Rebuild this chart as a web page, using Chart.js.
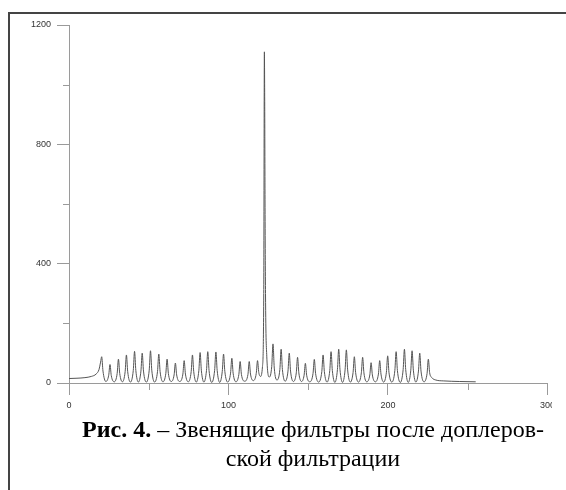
<!DOCTYPE html>
<html>
<head>
<meta charset="utf-8">
<script src="https://cdn.jsdelivr.net/npm/chart.js@4.4.0/dist/chart.umd.min.js"></script>
<style>
  body { margin: 0; background: #fff; width: 566px; height: 490px; overflow: hidden; position: relative; }
  #frame { position: absolute; left: 8px; top: 12px; width: 600px; height: 500px;
           border-top: 2px solid #444; border-left: 2px solid #444; }
  #wrap { position: absolute; left: 0; top: 0; width: 552px; height: 420px; overflow: hidden; }
  #caption { position: absolute; left: 10px; top: 415px; width: 606px; text-align: center;
             font-family: "Liberation Serif", "Times New Roman", serif; font-size: 24px;
             line-height: 29px; color: #000; }
</style>
</head>
<body>
<div id="frame"></div>
<div id="wrap"><canvas id="ringChart" width="560" height="420"></canvas></div>
<div id="caption"><b>Рис. 4.</b> – Звенящие фильтры после доплеров-<br>ской фильтрации</div>
<script>
// Data (x = filter index, y = amplitude)
const freq = [
  0, 5, 10, 14, 17, 18.8, 19.8, 20.5, 21.3,
  23.1, 24.9, 25.7, 26.5,
  28.4, 30.2, 31, 31.8,
  33.5, 35.2, 36, 36.8,
  38.5, 40.3, 41.1, 41.9,
  43.5, 45.1, 45.9, 46.7,
  48.5, 50.3, 51.1, 51.9,
  53.7, 55.5, 56.3, 57.1,
  58.9, 60.7, 61.5, 62.3,
  64.1, 65.9, 66.7, 67.5,
  69.4, 71.4, 72.2, 73,
  74.8, 76.6, 77.4, 78.2,
  79.8, 81.4, 82.2, 83,
  84.6, 86.2, 87, 87.8,
  89.5, 91.3, 92.1, 92.9,
  94.5, 96.1, 96.9, 97.7,
  99.5, 101.3, 102.1, 102.9,
  104.7, 106.5, 107.3, 108.1,
  110.1, 112.2, 113, 113.8,
  115.6, 117.4, 118.2, 119,
  120.2, 121.3, 122.1, 122.5, 122.7, 122.9, 123.2, 124,
  125.6, 127.1, 127.9, 128.7,
  130.4, 132.2, 133, 133.8,
  135.5, 137.3, 138.1, 138.9,
  140.7, 142.5, 143.3, 144.1,
  145.8, 147.4, 148.2, 149,
  151, 153, 153.8, 154.6,
  156.5, 158.5, 159.3, 160.1,
  161.8, 163.5, 164.3, 165.1,
  166.7, 168.3, 169.1, 169.9,
  171.5, 173.1, 173.9, 174.7,
  176.4, 178.1, 178.9, 179.7,
  181.5, 183.3, 184.1, 184.9,
  186.7, 188.6, 189.4, 190.2,
  192.1, 194, 194.8, 195.6,
  197.3, 199, 199.8, 200.6,
  202.4, 204.3, 205.1, 205.9,
  207.7, 209.5, 210.3, 211.1,
  212.7, 214.3, 215.1, 215.9,
  217.5, 219.1, 219.9, 220.7,
  222.6, 224.5, 225.3, 226.1, 227.5, 230, 235, 245, 255
];
const amp = [
  15, 16, 18, 22, 30, 45, 70, 88, 40,
  5, 26, 62, 25,
  4, 32, 80, 32,
  4, 38, 94, 38,
  3, 42, 106, 42,
  3, 40, 100, 40,
  3, 43, 108, 43,
  3, 39, 97, 39,
  4, 32, 80, 32,
  5, 27, 67, 27,
  5, 30, 75, 30,
  4, 38, 94, 38,
  3, 41, 102, 41,
  3, 42, 105, 42,
  2, 42, 104, 42,
  2, 39, 97, 39,
  3, 33, 83, 33,
  4, 29, 72, 29,
  6, 29, 72, 30,
  8, 32, 75, 35,
  22, 55, 300, 1110, 944, 614, 300, 90,
  20, 55, 131, 50,
  10, 45, 113, 45,
  6, 40, 100, 40,
  5, 34, 86, 34,
  5, 26, 66, 26,
  4, 32, 79, 32,
  3, 38, 94, 38,
  3, 42, 105, 42,
  2, 45, 113, 45,
  2, 44, 111, 44,
  3, 35, 88, 35,
  3, 34, 86, 34,
  4, 27, 68, 27,
  4, 30, 75, 30,
  3, 36, 91, 36,
  3, 42, 105, 42,
  2, 45, 113, 45,
  2, 43, 108, 43,
  3, 40, 100, 40,
  4, 32, 80, 35, 18, 10, 7, 5, 4
];
const xLabels = [0, 100, 200, 300];
const yLabels = [0, 400, 800, 1200];

const axisGrey = '#9a9a9a';

// short minor ticks (50, 150, 250 / 200, 600, 1000)
const minorTicks = {
  id: 'minorTicks',
  afterDraw(chart) {
    const { ctx, scales: { x, y } } = chart;
    ctx.save();
    ctx.strokeStyle = axisGrey;
    ctx.lineWidth = 1;
    ctx.beginPath();
    x.ticks.forEach(t => {
      if (xLabels.includes(t.value)) return;
      const px = Math.round(x.getPixelForValue(t.value)) + 0.5;
      ctx.moveTo(px, y.bottom);
      ctx.lineTo(px, y.bottom + 7);
    });
    y.ticks.forEach(t => {
      if (yLabels.includes(t.value)) return;
      const py = Math.round(y.getPixelForValue(t.value)) + 0.5;
      ctx.moveTo(x.left, py);
      ctx.lineTo(x.left - 6, py);
    });
    ctx.stroke();
    ctx.restore();
  }
};

const ctx = document.getElementById('ringChart').getContext('2d');
const ringChart = new Chart(ctx, {
  type: 'line',
  data: {
    datasets: [{
      data: freq.map((f, i) => ({ x: f, y: amp[i] })),
      borderColor: '#555',
      borderWidth: 1,
      pointRadius: 0,
      fill: false,
      cubicInterpolationMode: 'monotone'
    }]
  },
  options: {
    responsive: false,
    animation: false,
    layout: { autoPadding: false, padding: { left: 0, right: 5, top: 25, bottom: 0 } },
    plugins: { legend: { display: false }, tooltip: { enabled: false } },
    scales: {
      x: {
        type: 'linear', min: 0, max: 300,
        afterFit: s => { s.height = 37; },
        border: { color: axisGrey, width: 1 },
        grid: {
          drawOnChartArea: false, tickLength: 12,
          tickColor: c => xLabels.includes(c.tick.value) ? axisGrey : 'rgba(0,0,0,0)'
        },
        ticks: {
          stepSize: 50, padding: 5, maxRotation: 0, autoSkip: false,
          color: '#333', font: { family: 'Liberation Sans', size: 9 },
          callback: v => xLabels.includes(v) ? v : ''
        }
      },
      y: {
        min: 0, max: 1200,
        afterFit: s => { s.width = 69; },
        border: { color: axisGrey, width: 1 },
        grid: {
          drawOnChartArea: false, tickLength: 12,
          tickColor: c => yLabels.includes(c.tick.value) ? axisGrey : 'rgba(0,0,0,0)'
        },
        ticks: {
          stepSize: 200, padding: 6, autoSkip: false,
          color: '#333', font: { family: 'Liberation Sans', size: 9 },
          callback: v => yLabels.includes(v) ? v : ''
        }
      }
    }
  },
  plugins: [minorTicks]
});
</script>
</body>
</html>
